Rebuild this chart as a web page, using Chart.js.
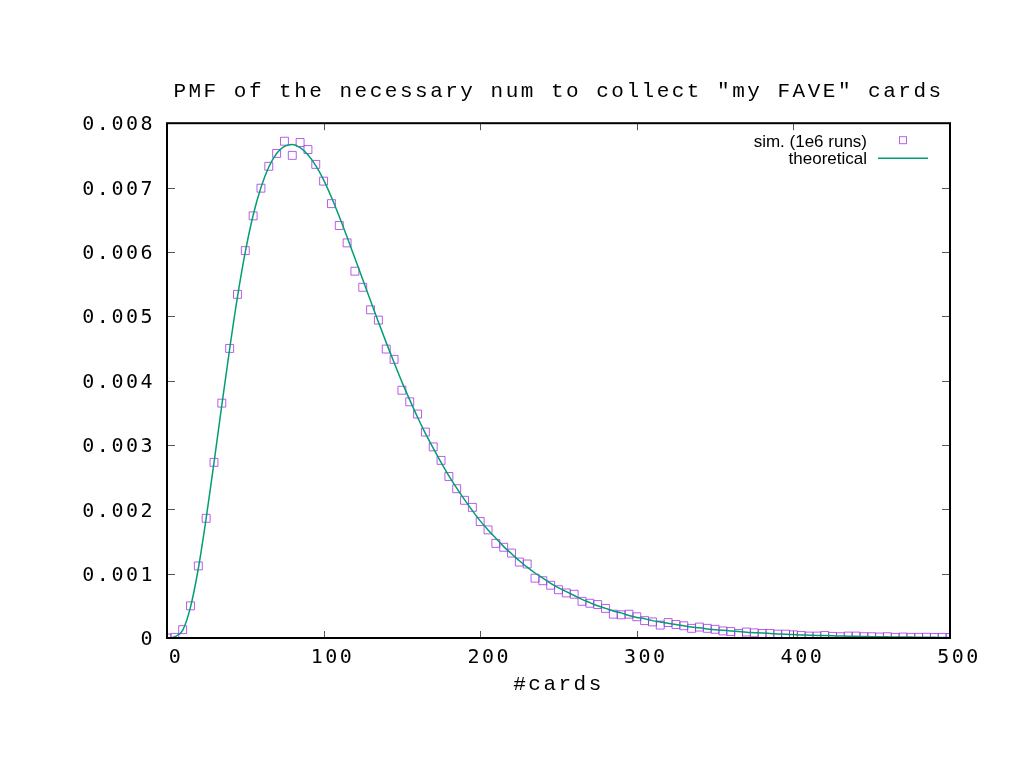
<!DOCTYPE html>
<html>
<head>
<meta charset="utf-8">
<script src="https://cdn.jsdelivr.net/npm/chart.js@4.4.1/dist/chart.umd.min.js"></script>
<style>
  body { margin: 0; background: #fff; }
  #wrap { width: 1024px; height: 768px; }
</style>
</head>
<body>
<div id="wrap"><canvas id="pmfChart"></canvas></div>
<script>
const cards = [
  0, 5, 10, 15, 20, 25, 30, 35, 40, 45, 50, 55, 60, 65, 70, 75, 80, 85, 90, 95,
  100, 105, 110, 115, 120, 125, 130, 135, 140, 145, 150, 155, 160, 165, 170, 175, 180, 185, 190, 195,
  200, 205, 210, 215, 220, 225, 230, 235, 240, 245, 250, 255, 260, 265, 270, 275, 280, 285, 290, 295,
  300, 305, 310, 315, 320, 325, 330, 335, 340, 345, 350, 355, 360, 365, 370, 375, 380, 385, 390, 395,
  400, 405, 410, 415, 420, 425, 430, 435, 440, 445, 450, 455, 460, 465, 470, 475, 480, 485, 490, 495, 500
];

// simulated PMF (1e6 runs)
const simPmf = [
  0, 0.00001, 0.00013, 0.0005, 0.00112, 0.00186, 0.00273, 0.00365, 0.0045, 0.00534,
  0.00602, 0.00656, 0.00699, 0.00733, 0.00753, 0.00772, 0.0075, 0.0077, 0.00759, 0.00736,
  0.0071, 0.00675, 0.00641, 0.00614, 0.0057, 0.00545, 0.0051, 0.00494, 0.00449, 0.00433,
  0.00385, 0.00367, 0.00348, 0.0032, 0.00297, 0.00276, 0.00251, 0.00232, 0.00214, 0.00203,
  0.00181, 0.00168, 0.00147, 0.00141, 0.00132, 0.00118, 0.00115, 0.00093, 0.00089, 0.00082,
  0.00075, 0.0007, 0.00068, 0.00057, 0.00054, 0.00052, 0.00046, 0.00037, 0.00036, 0.00037,
  0.00033, 0.00027, 0.00025, 0.0002, 0.00024, 0.00021, 0.00019, 0.00015, 0.00017, 0.00015,
  0.000135, 0.00011, 0.0001, 0.00007, 0.000093, 0.00008, 0.00007, 0.00007, 0.00006, 0.00006,
  0.00005, 0.00004, 0.00003, 0.00003, 0.00004, 0.000025, 0.00002, 0.00003, 0.00003, 0.00002,
  0.00002, 0.000015, 0.00002, 0.00001, 0.000015, 0.00001, 0.00001, 0.000012, 0.000008, 0.00001, 0.000008
];

// theoretical curve
const theoPmf = [
  0, 0.00002, 0.00012, 0.00048, 0.00108, 0.00186, 0.00272, 0.00362, 0.00449, 0.0053,
  0.006, 0.00657, 0.007, 0.00732, 0.00753, 0.00764, 0.00767, 0.00762, 0.00751, 0.00734,
  0.00712, 0.00685, 0.00655, 0.00623, 0.0059, 0.00557, 0.00524, 0.00491, 0.00459, 0.00428,
  0.00398, 0.0037, 0.00343, 0.00318, 0.00295, 0.00273, 0.00252, 0.00233, 0.00215, 0.00198,
  0.00182, 0.00168, 0.00155, 0.00142, 0.00131, 0.0012, 0.0011, 0.00101, 0.00093, 0.00085,
  0.00078, 0.00072, 0.00066, 0.0006, 0.00055, 0.0005, 0.00046, 0.00042, 0.00039, 0.00035,
  0.00032, 0.0003, 0.00027, 0.00025, 0.00023, 0.00021, 0.00019, 0.00017, 0.00016, 0.00014,
  0.00013, 0.00012, 0.00011, 0.0001, 0.00009, 0.000083, 0.000076, 0.00007, 0.000064, 0.000058,
  0.000053, 0.000048, 0.000044, 0.00004, 0.000037, 0.000034, 0.000031, 0.000028, 0.000026, 0.000024,
  0.000021, 0.00002, 0.000018, 0.000016, 0.000015, 0.000014, 0.000012, 0.000011, 0.00001, 0.000009, 0.000008
];

const simColor = 'rgba(160, 40, 225, 0.75)';
const theoColor = '#009e73';

// gnuplot-ish frame, inward ticks, legend inside the plot
const gnuplotLook = {
  id: 'gnuplotLook',
  beforeDraw(chart) {
    chart.ctx.letterSpacing = '2.5px';
  },
  afterDraw(chart) {
    const { ctx, chartArea: a, scales: { x, y } } = chart;
    ctx.save();
    ctx.letterSpacing = '0px';

    ctx.strokeStyle = '#555';
    ctx.lineWidth = 1;
    ctx.beginPath();
    x.ticks.forEach(t => {
      const px = Math.round(x.getPixelForValue(t.value)) + 0.5;
      ctx.moveTo(px, a.bottom); ctx.lineTo(px, a.bottom - 7);
      ctx.moveTo(px, a.top); ctx.lineTo(px, a.top + 7);
    });
    y.ticks.forEach(t => {
      const py = Math.round(y.getPixelForValue(t.value)) + 0.5;
      ctx.moveTo(a.left, py); ctx.lineTo(a.left + 8, py);
      ctx.moveTo(a.right, py); ctx.lineTo(a.right - 8, py);
    });
    ctx.stroke();

    ctx.strokeStyle = '#000';
    ctx.lineWidth = 2;
    ctx.strokeRect(a.left, a.top, a.width, a.height);

    // legend
    const ds = chart.data.datasets;
    ctx.font = '17px "Liberation Sans", Arial, sans-serif';
    ctx.fillStyle = '#000';
    ctx.textAlign = 'right';
    ctx.textBaseline = 'middle';
    ctx.fillText(ds[0].label, a.right - 83, a.top + 19);
    ctx.fillText(ds[1].label, a.right - 83, a.top + 36);

    ctx.strokeStyle = simColor;
    ctx.lineWidth = 1;
    ctx.strokeRect(a.right - 50.5, a.top + 13.5, 7, 7);

    ctx.strokeStyle = theoColor;
    ctx.lineWidth = 1.5;
    ctx.beginPath();
    ctx.moveTo(a.right - 72, a.top + 35);
    ctx.lineTo(a.right - 22, a.top + 35);
    ctx.stroke();

    ctx.restore();
  }
};

new Chart(document.getElementById('pmfChart'), {
  type: 'scatter',
  data: {
    datasets: [
      {
        label: 'sim. (1e6 runs)',
        data: cards.map((c, i) => ({ x: c, y: simPmf[i] })),
        showLine: false,
        pointStyle: 'rect',
        pointRadius: 5.6,
        pointBorderWidth: 1,
        pointBorderColor: simColor,
        pointBackgroundColor: 'rgba(0,0,0,0)',
        order: 2
      },
      {
        label: 'theoretical',
        data: cards.map((c, i) => ({ x: c, y: theoPmf[i] })),
        showLine: true,
        borderColor: theoColor,
        borderWidth: 1.5,
        pointRadius: 0,
        cubicInterpolationMode: 'monotone',
        order: 1
      }
    ]
  },
  options: {
    responsive: true,
    maintainAspectRatio: false,
    animation: false,
    layout: { padding: { top: 0, right: 74, bottom: 0, left: 0 } },
    plugins: {
      legend: { display: false },
      tooltip: { enabled: false },
      title: {
        display: true,
        fullSize: false,
        text: 'PMF of the necessary num to collect "my FAVE" cards',
        color: '#000',
        font: { family: '"Liberation Mono", "Courier New", monospace', size: 21, weight: 'normal' },
        padding: { top: 79, bottom: 19 }
      }
    },
    scales: {
      x: {
        type: 'linear',
        min: 0,
        max: 500,
        afterFit(scale) { scale.height = 130; },
        grid: { display: false, drawTicks: false },
        border: { display: false },
        ticks: {
          stepSize: 100,
          padding: 8,
          labelOffset: 9,
          color: '#000',
          maxRotation: 0,
          font: { family: '"DejaVu Sans Mono", monospace', size: 20 }
        },
        title: {
          display: true,
          text: '#cards',
          color: '#000',
          font: { family: '"Liberation Mono", "Courier New", monospace', size: 21 },
          padding: { top: 0, bottom: 71 }
        }
      },
      y: {
        min: 0,
        max: 0.008,
        afterFit(scale) { scale.width = 167; },
        grid: { display: false, drawTicks: false },
        border: { display: false },
        ticks: {
          stepSize: 0.001,
          padding: 12,
          labelOffset: 2,
          color: '#000',
          font: { family: '"DejaVu Sans Mono", monospace', size: 20 },
          callback: v => v === 0 ? '0' : v.toFixed(3)
        }
      }
    }
  },
  plugins: [gnuplotLook]
});
</script>
</body>
</html>
